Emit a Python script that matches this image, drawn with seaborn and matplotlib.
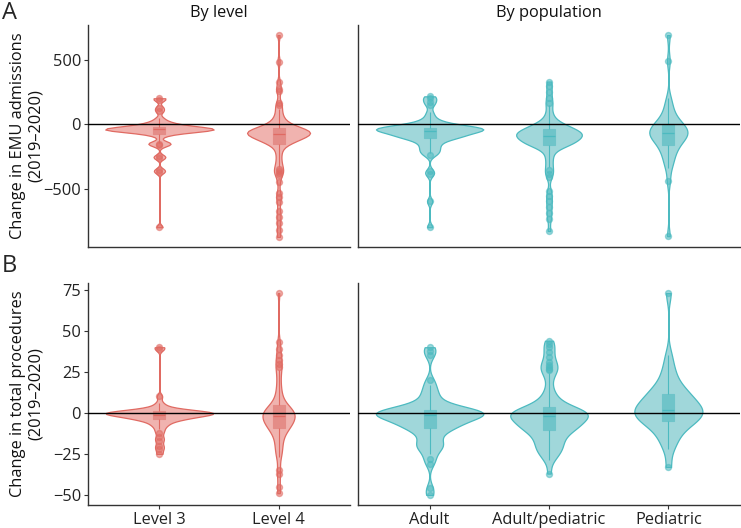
import numpy as np
import pandas as pd
import seaborn as sns
import matplotlib.pyplot as plt

# ---- data (change 2019 -> 2020 per centre) ----
level_order = ["Level 3", "Level 4"]
pop_order = ["Adult", "Adult/pediatric", "Pediatric"]
yticks_emu = [-500, 0, 500]
yticks_proc = [-50, -25, 0, 25, 50, 75]

# EMU admissions
lvl3_emu = [200, 190, 128, 100, 45, 20, 10, 0, -5, -12, -18, -22, -25, -28, -30, -32, -34, -36,
            -38, -40, -40, -42, -44, -46, -48, -50, -52, -55, -58, -62, -68, -75, -90, -140, -150,
            -155, -165, -250, -262, -355, -372, -800]
lvl4_emu = [690, 485, 325, 275, 255, 165, 150,
            120, 95, 70, 50, 35, 20, 10, 0, -5, -12, -18, -25, -30,
            -35, -38, -40, -42, -45, -47, -50, -52, -54, -56, -58, -60, -62, -64, -66, -68, -70,
            -72, -74, -76, -78, -80, -83, -86, -89, -92, -95, -98, -102, -106, -110, -114, -118,
            -122, -126, -130, -135, -140, -144, -148,
            -165, -185, -210, -240, -275, -305,
            -330, -350, -365, -380, -395, -450, -535, -565, -605, -675, -720, -765, -825, -875]
adult_emu = [215, 200, 175, 150,
             90, 55, 30, 15, 5, 0, -8, -15, -20, -24,
             -28, -31, -33, -34, -35, -36, -36, -37, -38, -39, -40, -42, -45,
             -50, -55, -60, -64, -68, -72, -76, -80, -84, -88, -92, -96, -100, -104, -108,
             -115, -125, -135, -150, -165, -180, -195, -210, -225,
             -240, -365, -390, -600, -800]
adped_emu = [330, 295, 250, 205, 165,
             150, 100, 70, 45, 25, 10, 0, -5, -10, -15, -20, -25, -30,
             -35, -40, -45, -50, -54, -58, -61, -64, -66, -68, -70, -72, -74, -77, -80, -83, -86,
             -89, -92, -95, -98, -102, -106, -110, -114, -118, -122, -126, -130, -134, -138, -142,
             -146, -150, -154, -158, -161, -164, -168, -172,
             -190, -215, -240, -270, -300, -335,
             -360, -385, -410, -520, -560, -600, -640, -690, -735, -830]
ped_emu = [690, 490, 200, 150, 110, 80, 50, 30, 15, 0, -8, -15, -25, -35, -45, -55, -62, -70,
           -74, -80, -88, -95, -105, -115, -125, -140, -160, -175, -190, -210, -240, -270, -300,
           -340, -440, -870]

# total procedures
lvl3_proc = [40, 39, 10, 6, 4, 3, 2, 2, 1, 1, 1, 1, 1, 0, 0, 0, 0, 0, 0, 0, 0, 0, -1, -1, -1, -1,
             -1, -2, -2, -2, -2, -3, -3, -3, -4, -4, -4, -5, -6, -7, -8, -10, -12, -15, -17, -20,
             -22, -25]
lvl4_proc = [73, 43, 39, 35, 32, 30, 28, 26,
             22, 18, 15, 12, 10, 8, 6, 5,
             4, 3, 3, 2, 2, 1, 1, 0, 0, 0, 0, -1, -1, -1, -2, -2, -3, -3, -4, -4, -5, -5, -6, -6,
             -7, -7, -8, -8, -9, -9,
             -10, -11, -12, -14, -15, -17, -19, -21, -23, -25, -27,
             -35, -37, -45, -49]
adult_proc = [40, 38, 35, 20,
              17, 14, 12, 10, 8, 6, 5, 4, 3, 3, 2,
              2, 1, 1, 1, 0, 0, 0, 0, 0, 0, 0, 0, -1, -1, -1, -2, -2, -3, -3, -4, -4, -5, -5, -6,
              -6, -7, -7, -8, -9, -9,
              -10, -11, -12, -14, -16, -18, -19, -20, -21, -22, -25,
              -28, -31, -46, -50]
adped_proc = [44, 42, 40, 37, 34, 31, 29, 28, 27, 26, 24,
              20, 15, 12, 10, 8, 7, 6, 5,
              3, 3, 2, 2, 2, 1, 1, 1, 0, 0, 0, 0, 0, 0, -1, -1, -1, -2, -2, -2, -3, -3, -4, -4,
              -5, -5, -6, -6, -6, -7, -7, -8, -8, -8, -9, -9, -10, -10,
              -11, -12, -12, -13, -14, -15, -16, -17, -18, -19, -20, -21, -22, -23, -24, -25, -27,
              -29, -37]
ped_proc = [73, 35, 28, 24, 20, 17, 15, 13, 12, 11, 10, 8, 7, 6, 5, 4, 3, 2, 2, 1, 0, 0, -1, -2,
            -3, -4, -5, -5, -6, -8, -10, -12, -15, -18, -22, -33]

# ---- styling ----
RED = dict(fill="#F0B3AF", edge="#E06A62", box="#E48C87")
TEAL = dict(fill="#A0D7DA", edge="#4CBAC0", box="#6FC4C9")

# violin widths (category units), as drawn in the original
widths = {
    "emu": {"Level 3": 0.91, "Level 4": 0.53, "Adult": 0.90, "Adult/pediatric": 0.55, "Pediatric": 0.32},
    "proc": {"Level 3": 0.90, "Level 4": 0.27, "Adult": 0.90, "Adult/pediatric": 0.65, "Pediatric": 0.57},
}

sns.set_theme(style="ticks")
plt.rcParams["font.family"] = ["Open Sans", "DejaVu Sans"]


def draw_group(ax, vals, cat, order, pal, width):
    sub = pd.DataFrame({"group": cat, "value": vals})
    v = np.asarray(vals, dtype=float)
    q1, q3 = np.percentile(v, [25, 75])
    sd = v.std(ddof=1)
    # ggplot-like bandwidth (nrd0), given to seaborn as a factor of the sd
    h = 0.9 * min(sd, (q3 - q1) / 1.34) * len(v) ** -0.2
    sns.violinplot(data=sub, x="group", y="value", order=order, ax=ax, cut=0, inner=None,
                   width=width, bw_method=h / sd, color=pal["fill"], linecolor=pal["edge"],
                   linewidth=0.9, saturation=1)
    sns.boxplot(data=sub, x="group", y="value", order=order, ax=ax, width=0.1,
                color=pal["box"], linecolor=pal["box"], saturation=1, linewidth=0.8,
                showcaps=False, fliersize=4.3,
                flierprops=dict(marker="o", markerfacecolor=pal["edge"],
                                markeredgecolor=pal["edge"], alpha=0.55),
                medianprops=dict(color=pal["edge"], linewidth=0.9),
                whiskerprops=dict(color=pal["edge"], linewidth=0.8))


fig = plt.figure(figsize=(7.41, 5.28), dpi=100)
W, H = 741, 528


def px_axes(x0, y0, x1, y1):
    return fig.add_axes([x0 / W, 1 - y1 / H, (x1 - x0) / W, (y1 - y0) / H])


rows = [
    ("emu", [lvl3_emu, lvl4_emu], [adult_emu, adped_emu, ped_emu], yticks_emu,
     "Change in EMU admissions\n(2019–2020)", 25, 247),
    ("proc", [lvl3_proc, lvl4_proc], [adult_proc, adped_proc, ped_proc], yticks_proc,
     "Change in total procedures\n(2019–2020)", 283, 505),
]

for r, (key, lvl_data, pop_data, yt, ylab, top, bot) in enumerate(rows):
    allv = np.concatenate([np.asarray(x, float) for x in lvl_data + pop_data])
    lo, hi = allv.min(), allv.max()
    pad = 0.05 * (hi - lo)
    axL = px_axes(88, top, 350, bot)
    axR = px_axes(358, top, 740, bot)
    for ax, order, data, pal in [(axL, level_order, lvl_data, RED), (axR, pop_order, pop_data, TEAL)]:
        for cat, vals in zip(order, data):
            draw_group(ax, vals, cat, order, pal, widths[key][cat])
        ax.axhline(0, color="black", linewidth=1.0, zorder=10)
        ax.set_xlim(-0.6, len(order) - 0.4)
        ax.set_ylim(lo - pad, hi + pad)
        ax.set_yticks(yt)
        ax.set_xlabel("")
        ax.set_ylabel("")
        sns.despine(ax=ax)
        for s in ["left", "bottom"]:
            ax.spines[s].set_color("#333333")
            ax.spines[s].set_linewidth(1.0)
        ax.tick_params(length=3, width=0.8, color="#333333", labelsize=11.8, labelcolor="#222222", pad=2)
        if r == 0:
            ax.tick_params(axis="x", bottom=False, labelbottom=False)
    axR.tick_params(axis="y", left=False, labelleft=False)
    axL.set_ylabel(ylab, fontsize=11.8, color="#111111", linespacing=1.1)
    axL.yaxis.set_label_coords(-0.17, 0.5)
    if r == 0:
        axL.set_title("By level", fontsize=11.8, pad=6, color="#111111")
        axR.set_title("By population", fontsize=11.8, pad=6, color="#111111")

fig.text(2 / W, 1 - 1 / H, "A", fontsize=17, va="top", ha="left")
fig.text(2 / W, 1 - 254 / H, "B", fontsize=17, va="top", ha="left")

fig.savefig("out.png", dpi=100)
